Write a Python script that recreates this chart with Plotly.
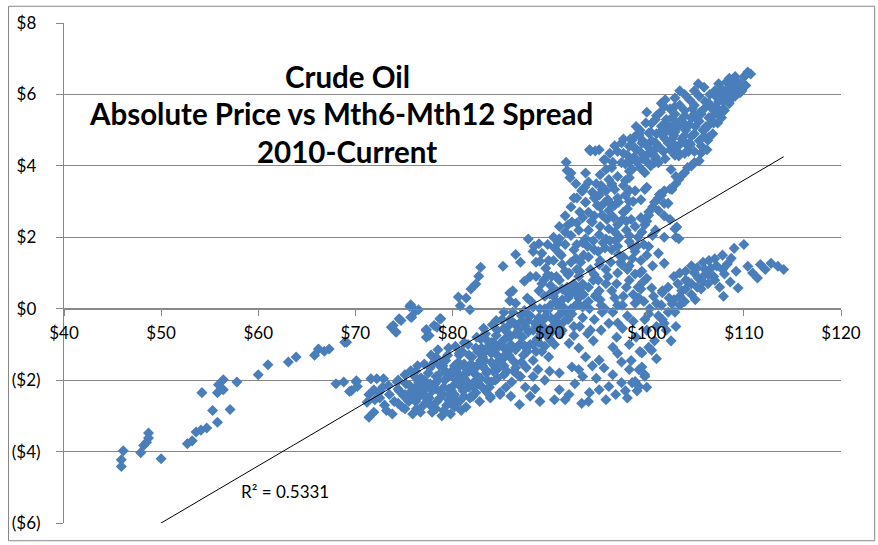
import plotly.graph_objects as go

# ---- data (price $/bbl, Mth6-Mth12 spread $) ----
tail_price = [45.9, 45.9, 46.1, 47.9, 48.2, 48.5, 48.7, 48.7, 50.0, 52.7, 53.2, 53.6, 54.1, 54.7,
              55.8, 55.3, 57.1, 54.2, 55.8, 55.9, 56.4, 56.4, 57.8, 60.0, 61.0, 63.1, 63.9, 65.8,
              66.2, 66.8, 67.3, 68.9]
tail_spread = [-4.42, -4.23, -3.98, -4.03, -3.83, -3.74, -3.62, -3.48, -4.20, -3.78, -3.70, -3.45,
               -3.40, -3.34, -3.18, -2.85, -2.82, -2.35, -2.35, -2.13, -1.99, -2.27, -2.05, -1.85,
               -1.57, -1.49, -1.35, -1.30, -1.13, -1.19, -1.13, -0.94]

hump_price = [73.7, 74.2, 74.7, 75.6, 75.7, 76.5, 77.3, 77.6, 78.4, 78.8, 75.7, 76.2, 75.8, 74.5,
              73.9, 74.1, 78.7, 78.1, 77.3, 77.3, 82.9, 82.7, 82.4, 81.9, 81.4, 80.6, 80.8, 81.8,
              69.1]
hump_spread = [-0.52, -0.66, -0.33, 0.06, -0.24, -0.03, -0.61, -0.75, -0.52, -0.28, 0.11, -0.06,
               -0.24, -0.28, -0.47, -0.63, -0.28, -0.47, -0.58, -0.80, 1.16, 0.91, 0.69, 0.55,
               0.30, 0.33, 0.08, -0.03, -0.94]

low_start_price = [68.0, 68.8, 69.6, 70.1, 70.2, 71.6, 72.2, 72.9, 71.4, 71.9, 71.2, 71.9, 71.4,
                   75.7, 69.4, 70.1, 72.5, 73.0, 73.5, 74.0, 74.5, 73.2, 72.8, 74.8, 73.8, 72.0,
                   75.0, 73.4, 74.3, 72.4]
low_start_spread = [-2.10, -2.05, -2.29, -2.02, -2.18, -1.96, -1.96, -1.96, -2.40, -2.27, -2.62,
                    -2.90, -3.04, -1.74, -2.32, -2.05, -2.50, -2.70, -2.40, -2.60, -2.30, -2.85,
                    -2.20, -2.75, -2.95, -2.55, -2.45, -2.15, -2.05, -2.35]

band_price = [75.2, 75.5, 75.8, 76.1, 76.3, 76.6, 76.9, 77.0, 76.4, 75.9,
              77.3, 77.5, 77.6, 77.9, 78.1, 78.2, 78.4, 78.6, 78.8, 78.9, 77.8, 78.5, 79.0,
              79.2, 79.4, 79.5, 79.7, 79.9, 80.1, 80.3, 80.4, 80.6, 80.8, 80.9, 81.0, 79.8, 81.1,
              81.3, 81.5, 81.6, 81.8, 82.0, 82.2, 82.3, 82.5, 82.7, 82.8, 83.0, 81.4, 82.9,
              83.2, 83.3, 83.5, 83.6, 83.8, 84.0, 84.1, 84.3, 84.5, 84.6, 84.8, 84.9, 83.9,
              85.1, 85.2, 85.4, 85.6, 85.7, 85.9, 86.1, 86.2, 86.4, 86.5, 86.7, 86.9, 86.9, 85.5,
              87.1, 87.3, 87.4, 87.6, 87.8, 88.0, 88.1, 88.3, 88.5, 88.7, 88.8, 89.0,
              89.2, 89.4, 89.5, 89.7, 89.9, 90.1, 90.3, 90.5, 90.7, 90.9, 91.1, 91.3, 91.5, 91.8,
              92.0, 92.2, 92.5, 93.0, 93.4,
              76.8, 77.2, 78.0, 79.3, 80.0, 80.7, 81.2, 82.1, 83.1, 83.7, 84.4, 85.0, 85.8, 86.6,
              87.2, 87.9, 88.6, 89.3, 90.0, 90.6, 91.4, 92.3, 92.8, 93.6, 94.2, 94.8, 95.4,
              79.6, 80.5, 81.7, 82.6, 84.2, 85.3, 86.3, 87.5, 88.9, 89.8, 91.0, 92.6, 93.9]
band_spread = [-2.10, -2.60, -2.30, -1.90, -2.80, -2.45, -2.15, -2.70, -1.60, -2.95,
               -2.20, -1.80, -2.50, -2.90, -1.50, -2.10, -2.60, -1.85, -2.35, -3.00, -1.30, -1.15, -1.60,
               -2.00, -2.70, -1.30, -2.40, -1.75, -2.15, -1.05, -2.55, -1.50, -1.90, -2.85, -1.20, -2.95, -2.30,
               -1.65, -2.05, -1.00, -2.50, -1.35, -1.80, -2.20, -0.80, -1.55, -2.60, -1.10, -2.75, -1.95,
               -0.55, -1.45, -1.80, -0.90, -2.20, -1.25, -0.45, -1.60, -0.75, -1.95, -1.05, -2.40, -2.50,
               -0.30, -1.40, -0.85, -1.75, -0.50, -1.15, -2.05, -0.10, -1.50, -0.70, -1.85, -1.00, -2.68, -2.20,
               -0.35, -1.30, -0.05, -1.65, -0.65, -1.00, 0.20, -1.45, -0.40, -0.85, -1.70, 0.00,
               -1.20, -0.30, 0.35, -0.75, -1.35, 0.10, -0.50, -1.00, 0.50, -0.20, -0.70, 0.25, -0.35, 0.60,
               -0.97, 0.00, -0.50, 0.30, -0.25,
               -1.95, -2.45, -2.25, -1.45, -2.65, -1.30, -1.85, -2.40, -1.60, -1.05, -2.00, -0.95, -1.30, -1.10,
               -0.80, -0.20, -1.20, -0.60, -0.85, -0.35, 0.05, -0.15, 0.55, 0.10, -0.60, 0.40, -0.10,
               -2.25, -1.65, -2.10, -1.20, -0.95, -1.85, -0.40, -1.05, -0.45, -0.05, -0.45, 0.45, -0.70]

band_fill_price = [74.4, 74.4, 74.4, 75.1, 75.1, 75.1, 75.6, 75.6, 76.2, 76.2, 76.2, 76.7, 76.7, 76.7,
                   77.1, 77.1, 77.1, 77.7, 77.7, 77.7, 78.3, 78.3, 78.3, 78.3, 78.7, 78.7, 79.1, 79.1,
                   79.1, 79.6, 79.6, 79.6, 80.2, 80.2, 80.2, 80.2, 80.7, 80.7, 80.7, 81.2, 81.2, 81.2,
                   81.2, 81.7, 81.7, 81.7, 82.4, 82.4, 82.4, 82.4, 82.9, 82.9, 82.9, 83.4, 83.4, 83.4,
                   83.4, 84.0, 84.0, 84.0, 84.6, 84.6, 84.6, 85.3, 85.3, 85.3, 85.3, 85.9, 85.9, 85.9,
                   86.5, 86.5, 86.5, 86.5, 87.1, 87.1, 87.1, 87.7, 87.7, 87.7, 88.3, 88.3, 88.3, 88.3,
                   88.9, 88.9, 88.9, 89.5, 89.5, 89.5, 90.1, 90.1, 90.1, 90.7, 90.7, 90.7, 91.3, 91.3,
                   91.3, 91.9, 91.9, 91.9, 92.5, 92.5, 92.5, 93.1, 93.1, 93.1]
band_fill_spread = [-2.25, -2.65, -2.00, -2.40, -1.85, -2.80, -2.15, -2.50, -2.20, -2.60, -1.75, -1.95,
                    -2.30, -2.90, -1.55, -2.40, -2.00, -2.10, -2.70, -1.65, -1.90, -2.25, -2.80, -1.35,
                    -1.60, -2.50, -2.20, -1.45, -2.85, -1.90, -2.55, -1.10, -1.60, -2.40, -1.95, -2.75,
                    -1.25, -2.10, -2.60, -1.55, -1.95, -2.45, -0.95, -1.30, -2.20, -1.75, -1.10, -1.65,
                    -2.35, -2.00, -0.85, -1.45, -2.15, -1.20, -1.70, -0.70, -2.30, -0.95, -1.50, -2.05,
                    -0.60, -1.30, -1.70, -0.55, -1.10, -1.60, -0.10, -0.80, -1.35, -0.30, -0.45, -1.15,
                    -1.65, 0.15, -0.80, -1.50, -0.20, -0.35, -1.20, 0.30, -0.60, -1.00, 0.05, -1.90,
                    -0.25, -0.95, 0.50, -0.55, 0.00, -1.05, -0.25, 0.65, -0.90, -0.45, 0.20, 0.90,
                    -0.10, 0.55, -0.60, 0.30, -0.30, 0.95, 0.05, 0.70, -0.75, -0.50, 0.55, 1.05]

band_dense_price = [76.0, 76.5, 77.4, 77.9, 78.5, 79.0, 79.3, 79.9, 80.4, 80.9, 81.4, 81.9, 82.1, 82.6,
                    83.1, 83.6, 84.2, 84.3, 84.8, 85.4, 85.6, 86.0, 86.3, 86.8, 87.4, 87.5, 88.0, 88.6,
                    89.1, 89.6, 90.2, 90.4, 91.0, 91.7, 92.3, 92.9, 93.5, 94.1, 94.7, 95.3]
band_dense_spread = [-2.35, -2.05, -2.55, -2.30, -2.00, -2.40, -1.75, -2.30, -1.75, -2.20, -1.80, -1.55,
                     -2.45, -1.90, -1.35, -2.00, -1.75, -1.10, -1.45, -1.30, -0.65, -1.00, -1.75, -0.60,
                     -1.05, -0.50, -0.20, -0.45, -0.70, -0.20, -0.65, 0.35, 0.05, -0.10, 0.45, 0.15,
                     0.40, 0.00, 0.35, 0.10]

steep_price = [85.2, 86.2, 86.5, 87.4, 85.9, 85.9, 84.5, 89.0, 89.6, 91.3, 92.7, 88.9, 88.3, 90.0,
               91.6, 88.0, 90.5, 87.0, 87.8, 88.4,
               96.1, 96.7, 95.1, 93.7, 93.1, 92.3, 91.6, 91.0, 94.4, 95.4, 96.4, 97.1, 97.8, 93.7,
               95.1, 96.1, 94.1, 94.7, 91.7, 92.7, 93.7, 92.2, 94.8, 95.8, 96.5, 93.0, 94.0, 94.9,
               92.8, 95.7, 96.8, 97.5, 98.0, 97.0, 95.6, 97.4, 93.6, 92.1, 91.8, 95.7,
               93.5, 94.2, 95.0, 95.9, 96.3, 97.2, 97.9, 98.4, 92.0, 93.0, 94.5, 96.9, 99.0, 98.0,
               99.3, 92.5, 93.3, 94.6, 95.3, 96.0, 96.6, 97.6, 98.6, 91.2, 90.2, 89.4,
               93.4, 94.4, 95.4, 96.4, 97.8, 98.2, 95.7, 96.7, 93.7,
               89.9, 90.9, 91.9, 92.5, 93.9, 94.3, 95.5, 96.1, 96.7, 97.3, 97.9, 98.5, 99.1, 99.7,
               93.2, 95.0]
steep_spread = [1.19, 0.50, 1.52, 0.77, 0.44, 0.22, -0.33, 1.33, 1.13, 1.24, 1.41, 1.82, 1.60, 0.41,
                0.50, 0.90, 1.70, 1.30, 1.95, 1.75,
                3.62, 3.34, 3.18, 2.98, 2.71, 2.43, 2.15, 1.96, 2.43, 2.62, 2.90, 2.98, 3.18, 1.96,
                2.07, 2.24, 4.45, 4.42, 4.10, 3.50, 3.80, 3.80, 3.50, 3.90, 4.10, 2.20, 2.70, 2.90,
                1.80, 1.70, 1.90, 2.50, 2.80, 3.70, 4.17, 4.64, 3.40, 3.67, 3.87, 4.17,
                1.50, 1.10, 1.60, 2.50, 1.30, 2.00, 2.20, 2.50, 1.00, 0.90, 1.90, 0.70, 0.30, -0.20,
                1.00, 3.10, 3.30, 3.10, 3.45, 3.05, 2.55, 2.70, 3.00, 1.50, 0.90, 0.80,
                3.34, 3.26, 3.34, 3.45, 3.59, 3.31, 2.98, 2.90, 2.98,
                1.35, 1.85, 2.35, 1.65, 1.75, 2.45, 1.85, 2.75, 2.15, 1.30, 2.45, 1.75, 2.00, 1.80,
                1.30, 0.80]

steep_fill_price = [88.6, 88.6, 89.2, 89.2, 89.8, 89.8, 90.4, 90.4, 90.4, 91.0, 91.0, 91.0, 91.6, 91.6,
                    91.6, 92.2, 92.2, 92.2, 92.8, 92.8, 92.8, 92.8, 93.4, 93.4, 93.4, 93.4, 94.0, 94.0,
                    94.0, 94.0, 94.6, 94.6, 94.6, 94.6, 95.2, 95.2, 95.2, 95.2, 95.2, 95.8, 95.8, 95.8,
                    95.8, 96.4, 96.4, 96.4, 96.4, 97.0, 97.0, 97.0, 97.0, 97.0, 97.6, 97.6, 97.6, 97.6,
                    98.2, 98.2, 98.2, 98.2, 98.8, 98.8, 98.8, 98.8, 99.4, 99.4, 99.4, 99.4, 100.0, 100.0,
                    100.0, 100.0, 100.6, 100.6, 100.6, 101.2, 101.2, 101.2, 101.8, 101.8, 101.8, 102.4,
                    102.4, 103.0, 103.0, 103.0]
steep_fill_spread = [0.90, 1.30, 0.70, 1.55, 0.95, 1.80, 0.50, 1.35, 2.00, 0.80, 1.55, 2.30, 1.05, 1.80,
                     2.60, 1.30, 2.05, 2.85, 0.45, 1.10, 2.40, 3.10, 1.85, 2.55, 3.30, 0.05, 0.60, 1.45,
                     2.20, 3.55, 0.95, 1.65, 2.60, 3.20, 0.25, 1.35, 2.30, 2.85, 3.75, 0.70, 1.10, 1.95,
                     3.30, 0.50, 1.65, 2.60, 3.50, 0.10, 1.00, 1.75, 2.35, 3.10, 0.35, 1.45, 2.70, 3.45,
                     0.80, 1.20, 2.05, 3.00, 0.15, 1.60, 2.30, 3.30, 0.55, 1.35, 2.55, 3.05, 0.85, 1.50,
                     2.45, 3.40, 1.20, 2.05, 2.85, 1.55, 2.75, 3.10, 2.00, 2.95, 3.30, 2.50, 3.35,
                     2.00, 3.50, 3.70]

upper_price = [103.4, 101.8, 100.5, 99.2, 98.5, 101.2, 103.3, 110.7, 110.0, 109.0, 108.2, 109.5,
               105.3, 107.7, 107.4, 107.1, 106.8, 106.3, 105.9, 105.6, 105.6, 105.4, 101.5, 102.9,
               103.9, 104.6, 103.3, 101.5, 100.2, 99.5, 100.8, 102.2, 103.6, 104.6, 99.8,
               98.0, 98.8, 99.0, 100.0, 100.5, 101.0, 101.7, 102.3, 102.6, 103.0, 104.0, 104.3,
               104.9, 105.0, 105.5, 106.0, 106.5, 106.8, 107.3, 107.9, 108.4, 108.8, 109.3, 109.8,
               106.2, 104.2, 102.0, 100.0, 101.0, 98.3, 97.8, 110.4, 109.7, 106.3, 104.9, 103.6,
               103.3, 98.2, 99.8, 101.3, 102.5, 104.5, 105.2, 107.0, 108.0, 99.6, 100.9, 102.8,
               97.0, 96.4, 98.9, 101.9, 103.8, 105.8, 106.6, 107.6, 108.6,
               94.2, 95.1, 96.7, 96.2, 97.4, 98.5, 99.2, 100.8, 102.6,
               100.6, 101.6, 102.6, 103.1, 104.1, 104.7, 105.6, 106.1, 107.1, 107.7, 108.2, 108.9,
               99.6, 98.9]
upper_spread = [6.10, 5.66, 5.19, 4.92, 3.90, 4.09, 4.28, 6.57, 6.49, 6.44, 6.35, 6.20,
                6.30, 6.16, 5.94, 5.66, 5.39, 5.11, 4.83, 4.56, 4.36, 4.14, 5.75, 5.66,
                5.55, 5.33, 5.11, 5.11, 4.92, 4.64, 4.45, 4.64, 4.75, 4.83, 3.81,
                4.30, 4.50, 4.10, 4.30, 4.70, 4.90, 4.40, 5.00, 5.35, 4.55, 5.00, 4.40,
                5.70, 5.10, 5.50, 5.80, 6.00, 4.90, 5.20, 5.80, 6.05, 5.90, 6.35, 6.10,
                4.45, 3.95, 5.30, 5.50, 5.40, 4.75, 4.05, 6.63, 6.20, 4.72, 4.09, 3.73,
                4.36, 3.67, 3.34, 3.20, 3.90, 4.60, 5.30, 6.10, 5.55, 4.20, 4.20, 4.85,
                4.40, 3.95, 5.10, 4.95, 5.20, 5.00, 5.65, 5.45, 6.25,
                4.42, 4.45, 4.56, 4.35, 4.09, 4.72, 4.86, 4.09, 4.64,
                4.35, 4.85, 4.75, 5.20, 4.60, 5.60, 5.45, 5.10, 5.95, 5.35, 5.90, 6.25,
                4.70, 4.45]

upper_fill_price = [97.6, 97.6, 98.2, 98.2, 98.2, 98.7, 98.7, 99.3, 99.3, 99.3, 99.9, 99.9, 99.9,
                    100.4, 100.4, 100.4, 100.9, 100.9, 100.9, 101.4, 101.4, 101.4, 101.9, 101.9, 101.9,
                    101.9, 102.4, 102.4, 102.4, 102.9, 102.9, 102.9, 102.9, 103.4, 103.4, 103.4, 103.9,
                    103.9, 103.9, 103.9, 104.4, 104.4, 104.4, 104.9, 104.9, 104.9, 104.9, 105.4, 105.4,
                    105.4, 105.9, 105.9, 105.9, 106.4, 106.4, 106.4, 106.9, 106.9, 106.9, 107.4, 107.4,
                    107.4, 107.9, 107.9, 108.5, 108.5, 108.5, 109.1, 109.1, 109.1, 109.6, 109.6, 110.2,
                    110.2]
upper_fill_spread = [4.35, 4.75, 4.10, 4.55, 3.85, 4.25, 4.80, 4.40, 3.95, 5.00, 4.15, 4.60, 5.20,
                     4.00, 4.45, 4.95, 4.65, 5.30, 4.25, 4.50, 4.95, 5.50, 4.20, 4.75, 5.20,
                     5.85, 4.45, 5.10, 5.60, 4.30, 4.95, 5.45, 5.90, 4.60, 5.25, 5.70, 4.35,
                     4.85, 5.40, 6.00, 4.65, 5.15, 5.85, 4.40, 4.90, 5.45, 6.10, 4.70, 5.25,
                     5.95, 5.00, 5.60, 6.20, 4.80, 5.35, 5.75, 5.20, 5.55, 6.05, 5.45, 5.80,
                     6.30, 5.60, 6.00, 5.75, 6.20, 6.45, 5.95, 6.10, 6.50, 6.30, 6.05, 6.25,
                     6.55]

middle_price = [100.2, 100.8, 101.5, 102.6, 103.3, 103.9, 104.6, 103.1, 100.2, 99.5, 98.2, 97.1,
                99.8, 98.8, 97.4, 96.7, 95.1, 95.1, 93.4, 96.0, 97.9, 98.5, 99.0, 100.9, 101.8,
                102.2, 96.5, 94.0, 94.6, 95.7, 100.2, 101.8, 102.9, 103.3, 99.5, 100.5, 99.2,
                97.5, 98.0, 99.6, 96.2, 94.5, 97.0, 98.6]
middle_spread = [2.71, 2.98, 3.18, 3.34, 3.62, 3.81, 4.00, 2.29, 2.62, 2.15, 1.88, 1.52,
                 2.35, 0.97, 1.24, 0.30, 0.50, 1.24, 0.69, 0.90, 0.60, 1.40, 1.75, 2.20, 2.60,
                 2.95, -0.10, 0.20, -0.30, 0.00, 1.74, 1.27, 2.24, 1.96, 1.05, 0.58, 0.30,
                 0.10, 1.10, 0.75, 1.90, 0.80, -0.40, 0.40]

loop_price = [93.7, 95.1, 97.4, 92.3, 95.6, 91.0, 93.4, 91.0, 92.0, 94.1, 95.1, 96.1, 97.4, 98.8,
              84.9, 83.9, 96.1, 96.5, 97.5, 98.2, 94.5, 93.0, 95.8, 96.8, 97.8, 98.2, 94.8, 92.6,
              90.5, 89.0, 88.0, 87.5, 93.3, 96.9, 95.3, 94.0,
              86.0, 87.0, 88.5, 89.5, 90.0, 91.6, 93.0, 94.4, 96.5, 97.0, 98.4]
loop_spread = [-1.35, -1.44, -1.49, -1.63, -1.66, -1.80, -1.90, -2.27, -2.40, -2.35, -2.27, -2.18,
               -2.07, -2.04, -2.35, -2.46, -0.41, -1.08, -0.55, -1.00, -0.90, -1.10, -2.55, -2.40,
               -2.30, -1.70, -1.95, -2.10, -2.55, -2.60, -2.45, -2.20, -2.65, -0.80, -0.60, -2.60,
               -2.45, -1.90, -2.25, -2.00, -1.75, -2.55, -1.70, -1.60, -1.85, -1.25, -1.45]

right_price = [98.5, 99.5, 100.5, 99.8, 101.8, 102.6, 103.6, 105.3, 106.6, 108.0, 109.0, 110.0,
               108.7, 110.4, 111.4, 111.7, 112.8, 113.5, 114.1, 109.4,
               100.0, 100.8, 101.2, 101.5, 102.0, 102.3, 102.9, 103.2, 103.9, 104.3, 104.6, 104.9,
               105.6, 106.0, 106.3, 106.9, 107.2, 107.5, 108.3, 108.6, 109.2, 110.9, 112.2, 105.8,
               104.0, 101.0, 100.0, 99.0, 98.0, 99.3, 100.3, 99.8, 103.0, 102.5, 99.5, 100.2, 99.2,
               99.8, 99.2, 101.6, 107.9, 105.0,
               101.0, 101.0, 101.6, 101.6, 102.2, 102.2, 102.8, 102.8, 103.4, 103.4, 103.4, 104.0,
               104.0, 104.6, 104.6, 105.2, 105.2, 105.8, 105.8, 106.4, 106.4, 107.0, 107.0, 107.8,
               107.8, 98.6, 99.1, 99.7, 100.2, 100.7, 98.9]
right_spread = [-2.07, -1.63, -1.16, -1.85, -0.41, 0.14, 0.50, 0.86, 1.13, 0.97, 1.69, 1.80,
                1.41, 1.19, 0.86, 1.24, 1.27, 1.19, 1.10, 0.58,
                -0.60, -0.90, -0.20, 0.10, -0.60, 0.30, -0.10, 0.70, 0.20, 0.75, 0.40, 1.00,
                0.55, 1.10, 0.70, 0.90, 1.20, 0.60, 1.25, 0.75, 1.05, 1.00, 1.10, 1.30,
                1.05, -1.40, -2.20, -2.30, -2.50, -1.20, 0.00, -0.30, -0.50, -0.90, -1.24, -1.08, -1.71,
                -1.90, -2.18, 0.45, 0.35, 0.25,
                -0.50, 0.15, -0.30, 0.50, -0.10, 0.60, 0.25, 0.90, 0.10, 0.35, 1.00, 0.55,
                0.80, 0.70, 1.20, 0.60, 1.15, 0.90, 0.75, 0.95, 1.35, 0.80, 1.40, 1.10,
                1.50, -0.35, 0.60, 0.20, -0.15, 0.35, -0.80]

# trendline (linear fit, Excel style)
trend_slope = 0.16
trend_intercept = -14.0
r_squared_label = "R² = 0.5331"

title_lines = ["Crude Oil", "Absolute Price vs Mth6-Mth12 Spread", "2010-Current"]

x_ticks = [40, 50, 60, 70, 80, 90, 100, 110, 120]
x_ticktext = ["$40", "$50", "$60", "$70", "$80", "$90", "$100", "$110", "$120"]
y_ticks = [8, 6, 4, 2, 0, -2, -4, -6]
y_ticktext = ["$8\u00a0", "$6\u00a0", "$4\u00a0", "$2\u00a0", "$0\u00a0", "($2)", "($4)", "($6)"]

# ---- build ----
price = (tail_price + hump_price + low_start_price + band_price + band_fill_price + band_dense_price
         + steep_price + steep_fill_price + upper_price + upper_fill_price + middle_price
         + loop_price + right_price)
spread = (tail_spread + hump_spread + low_start_spread + band_spread + band_fill_spread
          + band_dense_spread + steep_spread + steep_fill_spread + upper_spread + upper_fill_spread
          + middle_spread + loop_spread + right_spread)

FONT = "Lato"
GRID = "#878787"

fig = go.Figure()
fig.add_trace(go.Scatter(
    x=price, y=spread, mode="markers",
    marker=dict(symbol="diamond", size=8.5, color="#4A7EBB", line=dict(width=0)),
    showlegend=False, hoverinfo="skip"))

tx = [min(price), max(price)]
ty = [trend_slope * v + trend_intercept for v in tx]
fig.add_trace(go.Scatter(x=tx, y=ty, mode="lines", line=dict(color="black", width=1),
                         showlegend=False, hoverinfo="skip"))

fig.update_layout(
    width=878, height=545,
    margin=dict(l=57, r=37, t=18, b=20),
    paper_bgcolor="white", plot_bgcolor="white",
    font=dict(family=FONT, color="black", size=17),
    xaxis=dict(range=[40, 120], tickvals=x_ticks, ticktext=x_ticktext,
               showgrid=False, zeroline=False, showline=True, linecolor=GRID, linewidth=1,
               ticks="outside", ticklen=6, tickcolor=GRID, ticklabelstandoff=3,
               anchor="free", position=6/14, tickfont=dict(size=17, family=FONT)),
    yaxis=dict(range=[-6, 8], tickvals=y_ticks, ticktext=y_ticktext,
               showgrid=True, gridcolor=GRID, gridwidth=1, zeroline=False,
               showline=True, linecolor=GRID, linewidth=1,
               ticks="outside", ticklen=7, tickcolor=GRID, ticklabelstandoff=12,
               ticklabeloverflow="allow", tickfont=dict(size=17, family=FONT)),
)

title_pos = [(0.3648, 0.8935), (0.3559, 0.8185), (0.3648, 0.7436)]
for text, (px, py) in zip(title_lines, title_pos):
    fig.add_annotation(text=f"<b>{text}</b>", xref="paper", yref="paper", x=px, y=py,
                       xanchor="center", yanchor="middle", showarrow=False,
                       font=dict(family=FONT, size=29.5, color="black"))

fig.add_annotation(text=r_squared_label, xref="paper", yref="paper", x=0.2844, y=0.0631,
                   xanchor="center", yanchor="middle", showarrow=False,
                   font=dict(family=FONT, size=17, color="black"))

# outer chart border
fig.add_shape(type="rect", xref="paper", yref="paper",
              x0=-0.0714, x1=1.0434, y0=-0.0355, y1=1.0335,
              line=dict(color="#878787", width=1), fillcolor="rgba(0,0,0,0)", layer="below")

fig.write_html("out.html", config={"displayModeBar": False},
               post_script="document.body.style.margin='0';document.body.style.overflow='hidden';")
